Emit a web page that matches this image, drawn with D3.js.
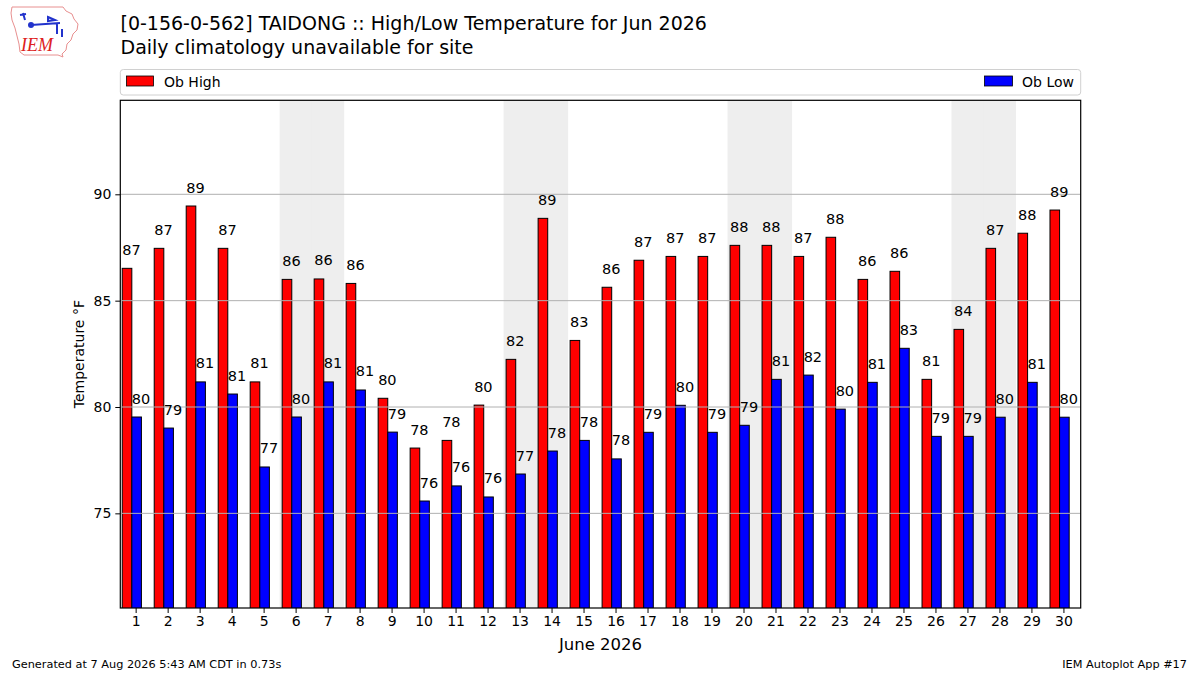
<!DOCTYPE html>
<html>
<head>
<meta charset="utf-8">
<script src="https://cdn.jsdelivr.net/npm/d3@7"></script>
<style>
  body { margin: 0; background: #fff; }
  svg { display: block; font-family: "DejaVu Sans", sans-serif; }
</style>
</head>
<body>
<svg id="chart" width="1200" height="675"></svg>
<script>
// days of June 2026
var days = [1, 2, 3, 4, 5, 6, 7, 8, 9, 10, 11, 12, 13, 14, 15,
            16, 17, 18, 19, 20, 21, 22, 23, 24, 25, 26, 27, 28, 29, 30];
var obHigh = [86.52, 87.46, 89.45, 87.46, 81.18, 86.00, 86.02, 85.81, 80.41, 78.07,
              78.43, 80.09, 82.24, 88.87, 83.13, 85.63, 86.90, 87.08, 87.08, 87.60,
              87.60, 87.08, 87.98, 86.00, 86.38, 81.30, 83.65, 87.46, 88.17, 89.26];
var obLow = [79.53, 79.01, 81.18, 80.61, 77.18, 79.53, 81.18, 80.80, 78.82, 75.58,
             76.29, 75.77, 76.85, 77.93, 78.43, 77.56, 78.81, 80.08, 78.81, 79.14,
             81.30, 81.50, 79.90, 81.16, 82.76, 78.62, 78.62, 79.52, 81.16, 79.52];
var weekendDays = [6, 7, 13, 14, 20, 21, 27, 28];
var yTicks = [75, 80, 85, 90];

var svg = d3.select("#chart");

var plot = {left: 120.3, right: 1080.7, top: 100.3, bottom: 608};

var x = d3.scaleLinear().domain([0.52, 30.54]).range([plot.left, plot.right]);
var y = d3.scaleLinear().domain([70.55, 94.42]).range([plot.bottom, plot.top]);

svg.append("defs").append("clipPath").attr("id", "clip")
    .append("rect")
    .attr("x", plot.left).attr("y", plot.top)
    .attr("width", plot.right - plot.left)
    .attr("height", plot.bottom - plot.top);

var g = svg.append("g").attr("clip-path", "url(#clip)");

// weekend shading (slight overlap so sat+sun join without a seam)
g.selectAll("rect.weekend")
    .data(weekendDays)
    .enter()
    .append("rect")
    .classed("weekend", true)
    .attr("x", (d) => x(d - 0.5))
    .attr("y", plot.top)
    .attr("width", (d) => x(d + 0.5) - x(d - 0.5) + 0.6)
    .attr("height", plot.bottom - plot.top)
    .style("fill", "#eeeeee");

var series = [
    {"name": "Ob High", "values": obHigh, "color": "#ff0000", "offset": -0.42},
    {"name": "Ob Low", "values": obLow, "color": "#0000ff", "offset": -0.12}
];
var barWidth = 0.30;

series.forEach(function (s) {
    g.selectAll(null)
        .data(days)
        .enter()
        .append("rect")
        .attr("x", (d) => x(d + s.offset))
        .attr("y", (d, i) => y(s.values[i]))
        .attr("width", x(barWidth) - x(0))
        .attr("height", (d, i) => plot.bottom + 2 - y(s.values[i]))
        .style("fill", s.color)
        .style("stroke", "#000")
        .style("stroke-width", 1);
});

// horizontal grid (drawn over the bars like the original)
g.selectAll("line.grid")
    .data(yTicks)
    .enter()
    .append("line")
    .attr("x1", plot.left).attr("x2", plot.right)
    .attr("y1", (d) => y(d)).attr("y2", (d) => y(d))
    .style("stroke", "#b0b0b0")
    .style("stroke-width", 1);

// value labels
series.forEach(function (s) {
    svg.selectAll(null)
        .data(days)
        .enter()
        .append("text")
        .attr("x", (d) => x(d + s.offset))
        .attr("y", (d, i) => y(s.values[i]) - 13.5)
        .attr("font-size", "14.5px")
        .style("fill", "#000")
        .text((d, i) => Math.round(s.values[i]));
});

// axes
var yAxis = d3.axisLeft(y).tickValues(yTicks).tickSize(5).tickPadding(4);
svg.append("g")
    .attr("transform", "translate(" + plot.left + ",0)")
    .call(yAxis)
    .call((a) => a.select(".domain").remove())
    .selectAll("text")
    .attr("font-size", "14px")
    .attr("font-family", "DejaVu Sans");

var xAxis = d3.axisBottom(x).tickValues(days).tickSize(5).tickPadding(3)
    .tickFormat(d3.format("d"));
svg.append("g")
    .attr("transform", "translate(0," + plot.bottom + ")")
    .call(xAxis)
    .call((a) => a.select(".domain").remove())
    .selectAll("text")
    .attr("font-size", "14px")
    .attr("font-family", "DejaVu Sans");

svg.selectAll(".tick line").style("stroke", "#000");

svg.append("rect")
    .attr("x", plot.left).attr("y", plot.top)
    .attr("width", plot.right - plot.left)
    .attr("height", plot.bottom - plot.top)
    .style("fill", "none")
    .style("stroke", "#000")
    .style("stroke-width", 1.2);

// axis labels
svg.append("text")
    .attr("transform", "translate(84," + ((plot.top + plot.bottom) / 2) + ") rotate(-90)")
    .attr("text-anchor", "middle")
    .attr("font-size", "14px")
    .text("Temperature °F");

svg.append("text")
    .attr("x", (plot.left + plot.right) / 2)
    .attr("y", 649.5)
    .attr("text-anchor", "middle")
    .attr("font-size", "16.5px")
    .text("June 2026");

// legend
var legend = svg.append("g");
legend.append("rect")
    .attr("x", plot.left).attr("y", 69.5)
    .attr("width", plot.right - plot.left).attr("height", 25.5)
    .attr("rx", 3)
    .style("fill", "#fff")
    .style("stroke", "#d0d0d0")
    .style("stroke-width", 1);
legend.append("rect")
    .attr("x", 126.5).attr("y", 76).attr("width", 27).attr("height", 10)
    .style("fill", series[0].color).style("stroke", "#000").style("stroke-width", 0.8);
legend.append("text")
    .attr("x", 164).attr("y", 86.5).attr("font-size", "14px").text(series[0].name);
legend.append("rect")
    .attr("x", 984.5).attr("y", 76).attr("width", 28).attr("height", 10)
    .style("fill", series[1].color).style("stroke", "#000").style("stroke-width", 0.8);
legend.append("text")
    .attr("x", 1074).attr("y", 86.5).attr("text-anchor", "end")
    .attr("font-size", "14px").text(series[1].name);

// titles
svg.append("text")
    .attr("x", 120.5).attr("y", 30)
    .attr("font-size", "19px")
    .text("[0-156-0-562] TAIDONG :: High/Low Temperature for Jun 2026");
svg.append("text")
    .attr("x", 120.5).attr("y", 54)
    .attr("font-size", "19px")
    .text("Daily climatology unavailable for site");

// footer
svg.append("text")
    .attr("x", 12).attr("y", 668)
    .attr("font-size", "11.3px")
    .text("Generated at 7 Aug 2026 5:43 AM CDT in 0.73s");
svg.append("text")
    .attr("x", 1187).attr("y", 668)
    .attr("text-anchor", "end")
    .attr("font-size", "11.3px")
    .text("IEM Autoplot App #17");

// IEM logo (rough sketch)
var logo = svg.append("g");
logo.append("path")
    .attr("d", "M12,7 L63,7 L66,11 L72,14 L74,19 L78,24 L77,30 L73,34 L71,40 L67,44 L66,50 L62,54 L63,57 L58,55 L24,55 L20,52 L19,44 L17,36 L15,28 L12,20 L11,13 Z")
    .style("fill", "none")
    .style("stroke", "#e89090")
    .style("stroke-width", 1);
logo.append("path")
    .attr("d", "M31,25 L60,23 M48,17 L55,20 L48,21 Z M57,23 L57,34 M62,29 L62,37 M23,13 L25,20 M20,15 L26,14")
    .style("fill", "none")
    .style("stroke", "#2233cc")
    .style("stroke-width", 2);
logo.append("circle").attr("cx", 31).attr("cy", 25).attr("r", 3).style("fill", "#2233cc");
logo.append("text")
    .attr("x", 21).attr("y", 51)
    .attr("font-family", "Liberation Serif")
    .attr("font-style", "italic")
    .attr("font-size", "18px")
    .style("fill", "#dd2020")
    .text("IEM");
</script>
</body>
</html>
